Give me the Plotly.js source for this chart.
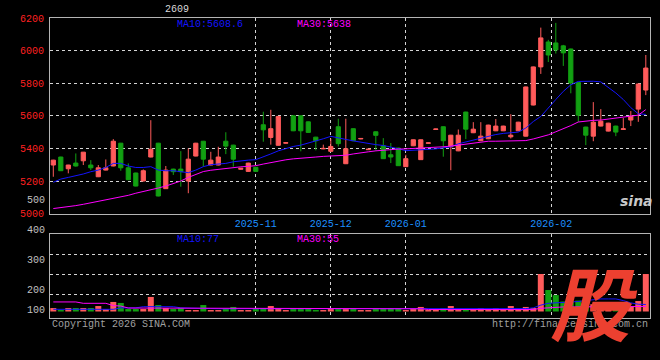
<!DOCTYPE html>
<html><head><meta charset="utf-8">
<script src="https://cdn.plot.ly/plotly-3.0.1.min.js"></script>
<style>html,body{margin:0;padding:0;background:#000;}#chart{width:660px;height:360px;}</style>
</head><body><div id="chart"></div>
<script>
// ---- data ----
const contractName = "2609";
const openP  = [5298,5347,5275,5310,5324,5298,5226,5267,5292,5432,5281,5249,5200,5347,5432,5153,5273,5273,5200,5353,
                5444,5298,5298,5444,5420,5272,5259,5284,5545,5467,5419,5432,5600,5600,5563,5469,5397,5382,5533,5306,
                5521,5458,5392,5502,5416,5361,5402,5288,5416,5331,5431,5516,5533,5410,5385,5623,5496,5447,5459,5508,
                5508,5471,5508,5475,5666,5900,6053,6047,6029,6010,5805,5531,5475,5537,5506,5537,5516,5574,5641,5758];
const highP  = [5330,5349,5299,5369,5378,5328,5298,5332,5457,5434,5308,5251,5271,5573,5434,5292,5275,5383,5400,5434,
                5446,5379,5410,5499,5422,5280,5312,5286,5625,5637,5600,5437,5602,5602,5565,5471,5423,5460,5582,5582,
                5523,5463,5397,5504,5463,5433,5404,5361,5455,5455,5436,5521,5535,5483,5516,5625,5561,5561,5545,5580,
                5539,5610,5563,5779,5902,6141,6066,6170,6035,6012,5807,5533,5684,5641,5557,5539,5586,5629,5797,5973];
const lowP   = [5226,5261,5247,5288,5298,5267,5224,5265,5290,5263,5206,5167,5198,5345,5106,5151,5237,5165,5125,5351,
                5288,5296,5296,5365,5288,5270,5257,5257,5441,5423,5417,5430,5506,5382,5496,5388,5395,5380,5412,5304,
                5445,5456,5390,5386,5335,5310,5292,5286,5414,5329,5429,5514,5349,5266,5383,5457,5494,5445,5457,5506,
                5506,5461,5506,5473,5664,5857,5930,5982,5906,5738,5563,5420,5444,5535,5504,5475,5514,5537,5563,5727];
const closeP = [5328,5263,5298,5292,5377,5281,5281,5281,5444,5281,5208,5169,5263,5395,5108,5267,5257,5257,5334,5432,
                5334,5328,5347,5414,5334,5278,5310,5259,5514,5521,5596,5435,5508,5508,5498,5447,5400,5412,5429,5398,
                5447,5461,5395,5480,5337,5347,5294,5337,5453,5453,5434,5519,5447,5481,5481,5518,5518,5475,5543,5537,
                5537,5481,5561,5777,5900,6078,5973,6004,5986,5801,5604,5481,5561,5567,5555,5500,5520,5598,5795,5893];
const ma10P  = [5192,5212,5222,5231,5243,5257,5267,5283,5308,5308,5292,5283,5283,5288,5267,5263,5263,5257,5251,5267,
                5288,5300,5302,5308,5318,5324,5328,5331,5351,5366,5385,5400,5412,5420,5432,5447,5459,5474,5463,5455,
                5446,5437,5430,5423,5418,5410,5398,5386,5388,5390,5392,5397,5404,5410,5428,5440,5451,5462,5475,5485,
                5492,5497,5500,5525,5565,5596,5650,5700,5750,5790,5811,5812,5812,5808,5775,5740,5700,5650,5612,5608.6];
const ma30P  = [5031,5036,5041,5049,5057,5066,5075,5083,5090,5100,5112,5125,5135,5143,5157,5169,5185,5200,5222,5240,
                5258,5266,5272,5277,5282,5287,5290,5294,5304,5313,5323,5330,5336,5341,5344,5347,5351,5352,5354,5358,
                5366,5374,5379,5385,5390,5393,5396,5397,5399,5400,5402,5406,5410,5414,5420,5428,5436,5442,5444,5444,
                5444,5444,5444,5448,5458,5472,5483,5502,5520,5540,5562,5568,5572,5574,5580,5585,5590,5596,5604,5638];
const volume = [38,16,38,38,38,38,60,27,105,94,27,27,27,160,71,38,27,38,16,16,
                71,16,16,27,50,16,16,27,38,60,38,16,27,27,27,16,16,38,27,27,
                27,16,16,27,27,38,38,16,27,50,16,27,38,60,16,27,16,38,16,38,
                16,60,27,50,38,412,236,180,110,105,120,90,80,60,70,50,40,60,115,412];
const volMa10 = [24,24,24,24,24,24,24,24,24,40,40,40,53,53,53,53,53,40,40,40,
                 40,32,30,30,30,30,30,30,30,30,30,30,30,30,30,30,30,30,30,30,
                 30,30,30,30,30,30,30,30,30,30,30,30,30,30,30,30,30,30,30,30,
                 30,30,30,32,40,70,90,95,100,101,110,120,130,138,138,138,120,95,80,77];
const volMa30 = [105,105,105,105,90,90,90,90,65,60,38,38,38,38,38,38,38,38,38,38,
                 38,35,35,35,35,35,35,35,35,35,35,35,35,35,35,35,35,30,30,30,
                 30,30,30,30,30,30,30,30,30,30,22,22,22,22,22,22,22,22,22,22,
                 22,22,22,22,22,35,42,48,50,50,52,52,53,53,53,54,54,54,54,55];
const monthTickPos = [27, 37, 47, 66.4];
const monthLabels  = ["2025-11", "2025-12", "2026-01", "2026-02"];
const priceTicks = [5000, 5200, 5400, 5600, 5800, 6000, 6200];
const volGrid = [181.5, 401.5, 621.5];
const volLabels = ["300", "200", "100"];
const volLabelPos = [566, 229, 9];
const volTopLabel = "400";
const priceMA10Text = "MA10:5608.6", priceMA30Text = "MA30:5638";
const volMA10Text = "MA10:77", volMA30Text = "MA30:55";

// ---- drawing ----
const idx = openP.map((_, i) => i);
const RED = '#ff5b5b', GREEN = '#12a012';
const volColors = idx.map(i => closeP[i] >= openP[i] ? RED : GREEN);
const MONO = 'Liberation Mono, DejaVu Sans Mono, monospace';

const traces = [
  {type: 'candlestick', x: idx, open: openP, high: highP, low: lowP, close: closeP,
   xaxis: 'x', yaxis: 'y', whiskerwidth: 0,
   increasing: {line: {color: RED, width: 1}, fillcolor: RED},
   decreasing: {line: {color: GREEN, width: 1}, fillcolor: GREEN},
   hoverinfo: 'skip'},
  {type: 'scatter', mode: 'lines', x: idx, y: ma10P, xaxis: 'x', yaxis: 'y',
   line: {color: '#1414ff', width: 1}, hoverinfo: 'skip'},
  {type: 'scatter', mode: 'lines', x: idx, y: ma30P, xaxis: 'x', yaxis: 'y',
   line: {color: '#ff00ff', width: 1}, hoverinfo: 'skip'},
  {type: 'bar', x: idx, y: volume, xaxis: 'x2', yaxis: 'y2',
   marker: {color: volColors, line: {width: 0}}, hoverinfo: 'skip'},
  {type: 'scatter', mode: 'lines', x: idx, y: volMa10, xaxis: 'x2', yaxis: 'y2',
   line: {color: '#1414ff', width: 1}, hoverinfo: 'skip'},
  {type: 'scatter', mode: 'lines', x: idx, y: volMa30, xaxis: 'x2', yaxis: 'y2',
   line: {color: '#ff00ff', width: 1}, hoverinfo: 'skip'}
];

const frame = {showline: true, linecolor: '#b4b4b4', linewidth: 1, mirror: true, zeroline: false};
const grid = {showgrid: true, gridcolor: '#d4d4d4', gridwidth: 1, griddash: 'dot'};
const xr = [-0.44, 79.56];

const ann = (text, x, y, color, opts) => Object.assign({
  text, x, y, xref: 'paper', yref: 'paper', showarrow: false,
  font: {family: MONO, size: 10, color}, xanchor: 'left', yanchor: 'middle'}, opts || {});

const layout = {
  width: 660, height: 360,
  paper_bgcolor: '#000', plot_bgcolor: '#000',
  margin: {l: 50, r: 10, t: 18, b: 42},
  showlegend: false, hovermode: false, dragmode: false,
  boxgap: 0.2, bargap: 0.2,
  xaxis: Object.assign({}, frame, grid, {domain: [0, 1], range: xr, anchor: 'y',
    tickmode: 'array', tickvals: monthTickPos, ticktext: monthLabels, ticks: '',
    tickfont: {family: MONO, size: 10, color: '#1e90ff'},
    rangeslider: {visible: false}}),
  yaxis: Object.assign({}, frame, grid, {domain: [0.348, 1], range: [5000, 6200], anchor: 'x',
    tickmode: 'array', tickvals: priceTicks, ticks: '', ticklabelstandoff: 3,
    tickfont: {family: MONO, size: 10, color: '#ff2020'}}),
  xaxis2: Object.assign({}, frame, grid, {domain: [0, 1], range: xr, anchor: 'y2',
    tickmode: 'array', tickvals: monthTickPos, showticklabels: false, ticks: ''}),
  yaxis2: Object.assign({}, frame, grid, {domain: [0, 0.28], range: [-71.5, 852], anchor: 'x2',
    tickmode: 'array', tickvals: volGrid, showticklabels: false, ticks: ''}),
  annotations: [
    ann(contractName, 0.2117, 1.027, '#d8d8d8', {xanchor: 'center'}),
    ann(priceMA10Text, 0.2083, 0.98, '#1414ff'),
    ann(priceMA30Text, 0.4083, 0.98, '#ff00ff'),
    ann(volMA10Text, 0.2083, 0.2633, '#1414ff'),
    ann(volMA30Text, 0.4083, 0.2633, '#ff00ff'),
    ann('500', 0, 5083, '#c0c0c0', {yref: 'y', xanchor: 'right', xshift: -3}),
    ann(volTopLabel, 0, 0.291, '#c0c0c0', {xanchor: 'right', xshift: -3}),
    ann('Copyright 2026 SINA.COM', 0, -0.02, '#a0a0a0'),
    ann('http://finance.sina.com.cn', 1, -0.02, '#a0a0a0', {xanchor: 'right'}),
    ann('sina', 0.977, 0.39, '#c8c8c8', {xanchor: 'center',
      font: {family: 'DejaVu Sans', size: 14, color: '#c8c8c8', weight: 'bold', style: 'italic'}}),
    ann('股', 0.9067, 0.06, '#ec4030', {xanchor: 'center',
      font: {family: 'Noto Sans CJK SC', size: 80, color: '#ec4030', weight: 'bold', style: 'italic'}})
  ].concat(volLabels.map((t, i) =>
    ann(t, 0, volLabelPos[i], '#c0c0c0', {yref: 'y2', xanchor: 'right', xshift: -3})))
};

Plotly.newPlot('chart', traces, layout, {staticPlot: true, displayModeBar: false});
</script>
</body></html>
